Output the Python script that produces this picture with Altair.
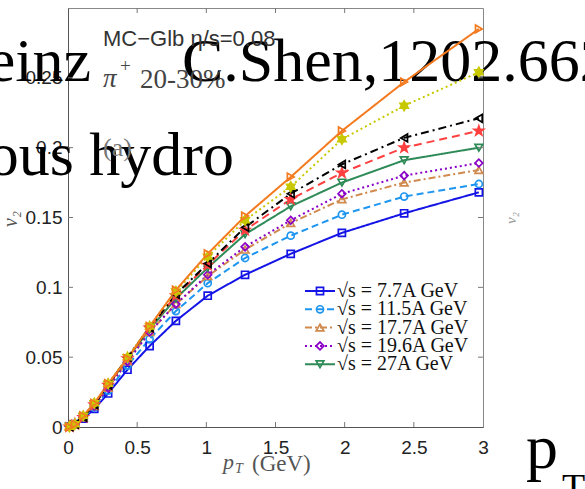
import altair as alt
import pandas as pd

# ---------------- data ----------------
pt = [0.01, 0.05, 0.11, 0.19, 0.29, 0.43, 0.59, 0.78, 1.01, 1.28, 1.61, 1.98, 2.43, 2.97]

series_names = ["7.7", "11.5", "17.7", "19.6", "27", "39", "62.4", "200", "2760"]
v2_7p7  = [0.0002, 0.002, 0.006, 0.013, 0.024, 0.041, 0.058, 0.076, 0.094, 0.109, 0.124, 0.139, 0.153, 0.168]
v2_11p5 = [0.0002, 0.002, 0.007, 0.014, 0.026, 0.044, 0.063, 0.083, 0.103, 0.121, 0.137, 0.152, 0.165, 0.174]
v2_17p7 = [0.0002, 0.002, 0.007, 0.015, 0.028, 0.047, 0.068, 0.088, 0.108, 0.127, 0.146, 0.163, 0.175, 0.184]
v2_19p6 = [0.0002, 0.002, 0.007, 0.015, 0.028, 0.047, 0.068, 0.088, 0.109, 0.129, 0.148, 0.167, 0.180, 0.189]
v2_27   = [0.0002, 0.002, 0.007, 0.016, 0.030, 0.049, 0.070, 0.092, 0.114, 0.138, 0.158, 0.175, 0.191, 0.200]
v2_39   = [0.0002, 0.002, 0.007, 0.016, 0.030, 0.049, 0.071, 0.094, 0.116, 0.141, 0.163, 0.182, 0.200, 0.212]
v2_62p4 = [0.0002, 0.002, 0.007, 0.016, 0.030, 0.050, 0.071, 0.095, 0.117, 0.143, 0.167, 0.188, 0.207, 0.221]
v2_200  = [0.0002, 0.002, 0.008, 0.017, 0.031, 0.050, 0.072, 0.097, 0.122, 0.148, 0.172, 0.206, 0.230, 0.254]
v2_2760 = [0.0002, 0.002, 0.008, 0.017, 0.031, 0.049, 0.072, 0.098, 0.124, 0.151, 0.179, 0.212, 0.247, 0.285]
all_v2 = [v2_7p7, v2_11p5, v2_17p7, v2_19p6, v2_27, v2_39, v2_62p4, v2_200, v2_2760]

colors = ["#1414e6", "#1e96f0", "#d08a4e", "#8a00c8", "#2e8b57", "#ff4040", "#000000", "#c8c800", "#f47a1f"]
dashes = [[1, 0], [7, 4], [7, 3, 2, 3], [2, 3], [1, 0], [8, 5], [8, 4, 2, 4], [2, 3], [1, 0]]
STAR = "M0,-1L0.235,-0.324L0.951,-0.309L0.380,0.124L0.588,0.809L0,0.4L-0.588,0.809L-0.380,0.124L-0.951,-0.309L-0.235,-0.324Z"
HEXA = "M0,-1L0.866,0.5L-0.866,0.5Z M0,1L-0.866,-0.5L0.866,-0.5Z"
shapes = ["square", "circle", "triangle-up", "diamond", "triangle-down", STAR, "triangle-left", HEXA, "triangle-right"]
filled = [False, False, False, False, False, True, False, True, False]
msizes = [50, 50, 60, 60, 60, 100, 60, 90, 60]

legend_labels = ["√s = 7.7A GeV", "√s = 11.5A GeV", "√s = 17.7A GeV", "√s = 19.6A GeV", "√s = 27A GeV"]

x_ticks = [0, 0.5, 1, 1.5, 2, 2.5, 3]
y_ticks = [0, 0.05, 0.1, 0.15, 0.2, 0.25]

txt_left1 = "U.Heinz"
txt_shen = "C.Shen,1202.6627"
txt_hydro = "Viscous hydro"
txt_mc = "MC\u2212Glb \u03b7/s=0.08"
txt_pi = "\u03c0"
txt_cent = "20-30%"
txt_panel = "(a)"

# ---------------- build tables ----------------
rows = []
for i, (name, vals) in enumerate(zip(series_names, all_v2)):
    for p, v in zip(pt, vals):
        rows.append({
            "series": name, "pt": p, "v2": v, "col": colors[i],
            "fillc": colors[i] if filled[i] else "transparent",
            "shp": shapes[i], "msz": msizes[i], "order": i,
        })
df = pd.DataFrame(rows)

leg = pd.DataFrame({
    "series": series_names[:5],
    "label": legend_labels,
    "idx": list(range(5)),
    "col": colors[:5],
    "fillc": [colors[i] if filled[i] else "transparent" for i in range(5)],
    "shp": shapes[:5],
    "msz": msizes[:5],
})

W, H = 415, 419
xs = alt.Scale(domain=[0, 3], nice=False, zero=False)
ys = alt.Scale(domain=[0, 0.3], nice=False, zero=False)
dash_scale = alt.Scale(domain=series_names, range=dashes)
col_scale = alt.Scale(domain=series_names, range=colors)

SERIF = "Liberation Serif"
SANS = "Liberation Sans"


def label(txt, x, y, **kw):
    return alt.Chart(pd.DataFrame({"t": [txt]})).mark_text(**kw).encode(
        x=alt.value(x), y=alt.value(y), text="t:N")


# big overlay texts (behind the figure)
overlay = [
    label(txt_left1, 23, 73, font=SERIF, fontSize=62, align="right", baseline="alphabetic", color="black"),
    label(txt_shen, 114, 73, font=SERIF, fontSize=62, align="left", baseline="alphabetic", color="black"),
    label(txt_hydro, 166, 167, font=SERIF, fontSize=62, align="right", baseline="alphabetic", color="black"),
    label("p", 458, 460, font=SERIF, fontSize=64, align="left", baseline="alphabetic", color="black"),
    label("T", 494, 492, font=SERIF, fontSize=38, align="left", baseline="alphabetic", color="black"),
]

# figure inner texts
inner = [
    label(txt_mc, 35, 38, font=SANS, fontSize=22, align="left", baseline="alphabetic", color="#333333"),
    label(txt_pi, 35, 79, font=SERIF, fontSize=27, fontStyle="italic", align="left", baseline="alphabetic", color="#444444"),
    label("+", 52, 64, font=SERIF, fontSize=19, align="left", baseline="alphabetic", color="#444444"),
    label(txt_cent, 72, 80, font=SERIF, fontSize=27, align="left", baseline="alphabetic", color="#444444"),
    label(txt_panel, 35, 148, font=SERIF, fontSize=26, align="left", baseline="alphabetic", color="#777777"),
    label("v\u2082", -57, 211, font=SERIF, fontSize=20, fontStyle="italic", angle=270, align="center", baseline="middle", color="#555555"),
    label("p", 155, 461, font=SERIF, fontSize=22, fontStyle="italic", align="left", baseline="alphabetic", color="#555555"),
    label("T", 167, 465, font=SERIF, fontSize=14, fontStyle="italic", align="left", baseline="alphabetic", color="#555555"),
    label("(GeV)", 184, 463, font=SERIF, fontSize=23, align="left", baseline="alphabetic", color="#555555"),
    label("v\u2082", 443, 210, font=SERIF, fontSize=15, fontStyle="italic", angle=270, align="center", baseline="middle", color="#999999"),
]

base = alt.Chart(df)

lines = base.mark_line(strokeWidth=2).encode(
    x=alt.X("pt:Q", scale=xs, axis=alt.Axis(values=x_ticks, format="~g", title=None, grid=False,
                                            tickSize=0, labelPadding=11, labelFont=SANS, labelFontSize=19,
                                            labelColor="#222222", domainColor="#555555", labelFlush=False)),
    y=alt.Y("v2:Q", scale=ys, axis=alt.Axis(values=y_ticks, format="~g", title=None, grid=False,
                                            tickSize=0, labelPadding=6, labelFont=SANS, labelFontSize=19,
                                            labelColor="#222222", domainColor="#555555", labelFlush=False)),
    color=alt.Color("series:N", scale=col_scale, legend=None),
    strokeDash=alt.StrokeDash("series:N", scale=dash_scale, legend=None),
    detail="series:N",
    order="pt:Q",
)

points = base.mark_point(filled=False, strokeWidth=1.7, opacity=1).encode(
    x=alt.X("pt:Q", scale=xs),
    y=alt.Y("v2:Q", scale=ys),
    stroke=alt.Stroke("col:N", scale=None),
    fill=alt.Fill("fillc:N", scale=None),
    shape=alt.Shape("shp:N", scale=None),
    size=alt.Size("msz:Q", scale=None),
)

# inward ticks
xt = pd.DataFrame({"t": x_ticks[1:-1]})
yt = pd.DataFrame({"t": y_ticks[1:]})
tick_col = "#777777"
ticks = [
    alt.Chart(xt).mark_rule(color=tick_col, strokeWidth=1).encode(x=alt.X("t:Q", scale=xs), y=alt.value(0), y2=alt.value(5)),
    alt.Chart(xt).mark_rule(color=tick_col, strokeWidth=1).encode(x=alt.X("t:Q", scale=xs), y=alt.value(H), y2=alt.value(H - 5)),
    alt.Chart(yt).mark_rule(color=tick_col, strokeWidth=1).encode(y=alt.Y("t:Q", scale=ys), x=alt.value(0), x2=alt.value(5)),
    alt.Chart(yt).mark_rule(color=tick_col, strokeWidth=1).encode(y=alt.Y("t:Q", scale=ys), x=alt.value(W), x2=alt.value(W - 5)),
]

# manual legend
legbase = alt.Chart(leg).transform_calculate(ly="283 + 18.3 * datum.idx")
leg_lines = legbase.mark_rule(strokeWidth=2).encode(
    x=alt.value(237), x2=alt.value(267),
    y=alt.Y("ly:Q", scale=None, axis=None),
    color=alt.Color("series:N", scale=col_scale, legend=None),
    strokeDash=alt.StrokeDash("series:N", scale=dash_scale, legend=None),
)
leg_pts = legbase.mark_point(filled=False, strokeWidth=1.7, opacity=1).encode(
    x=alt.value(252),
    y=alt.Y("ly:Q", scale=None, axis=None),
    stroke=alt.Stroke("col:N", scale=None),
    fill=alt.Fill("fillc:N", scale=None),
    shape=alt.Shape("shp:N", scale=None),
    size=alt.Size("msz:Q", scale=None),
)
leg_txt = legbase.mark_text(font=SERIF, fontSize=20, align="left", baseline="middle", color="#111111").encode(
    x=alt.value(269),
    y=alt.Y("ly:Q", scale=None, axis=None),
    text="label:N",
)

chart = alt.layer(
    *overlay, lines, points, *ticks, leg_lines, leg_pts, leg_txt, *inner
).properties(
    width=W, height=H,
    padding={"left": 68, "top": 8, "right": 102, "bottom": 62},
    autosize=alt.AutoSizeParams(type="none"),
    background="white",
).configure_view(stroke="#888888", strokeWidth=1)

chart.save("out.html", embed_options={"renderer": "svg", "actions": False})
